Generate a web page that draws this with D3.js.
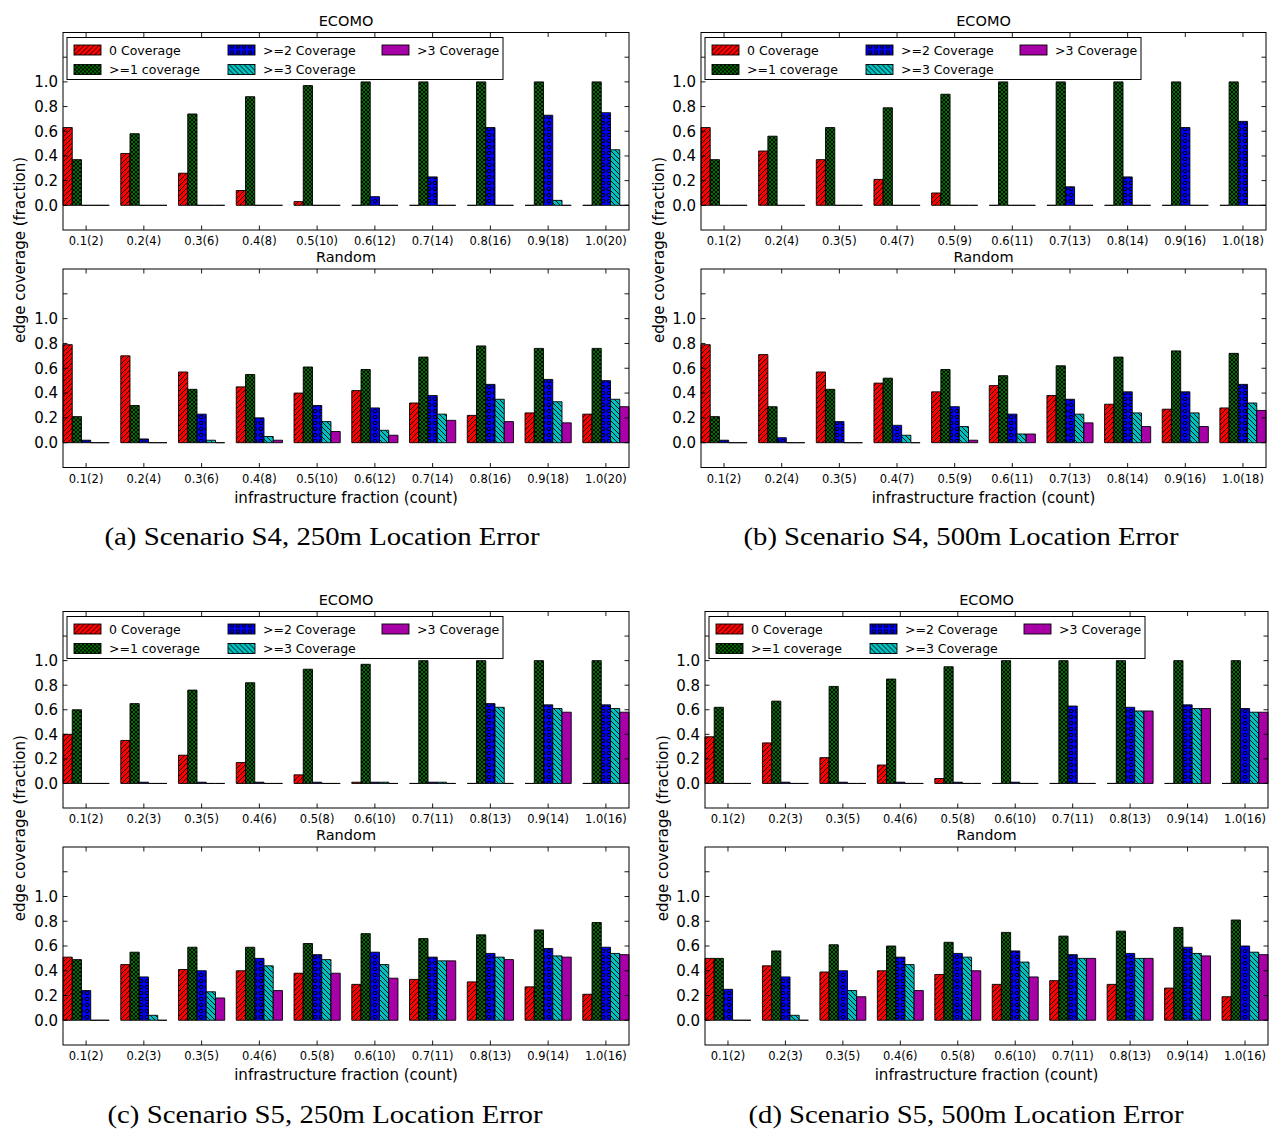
<!DOCTYPE html>
<html><head><meta charset="utf-8">
<script src="https://cdn.jsdelivr.net/npm/d3@7"></script>
<style>body{margin:0;background:#fff}</style>
</head><body>
<svg id="chart" width="1276" height="1129"></svg>
<script>
// ---------- DATA ----------
const seriesNames = ["0 Coverage", ">=1 coverage", ">=2 Coverage", ">=3 Coverage", ">3 Coverage"];
const yTicks = [0.0, 0.2, 0.4, 0.6, 0.8, 1.0];
const catsA = ["0.1(2)","0.2(4)","0.3(6)","0.4(8)","0.5(10)","0.6(12)","0.7(14)","0.8(16)","0.9(18)","1.0(20)"];
const catsB = ["0.1(2)","0.2(4)","0.3(5)","0.4(7)","0.5(9)","0.6(11)","0.7(13)","0.8(14)","0.9(16)","1.0(18)"];
const catsCD = ["0.1(2)","0.2(3)","0.3(5)","0.4(6)","0.5(8)","0.6(10)","0.7(11)","0.8(13)","0.9(14)","1.0(16)"];

// (a) S4, 250m
const ecomoA_zero = [0.63,0.42,0.26,0.12,0.03,0,0,0,0,0];
const ecomoA_ge1  = [0.37,0.58,0.74,0.88,0.97,1,1,1,1,1];
const ecomoA_ge2  = [0,0,0,0,0,0.07,0.23,0.63,0.73,0.75];
const ecomoA_ge3  = [0,0,0,0,0,0,0,0,0.04,0.45];
const ecomoA_gt3  = [0,0,0,0,0,0,0,0,0,0];
const randA_zero = [0.79,0.70,0.57,0.45,0.40,0.42,0.32,0.22,0.24,0.23];
const randA_ge1  = [0.21,0.30,0.43,0.55,0.61,0.59,0.69,0.78,0.76,0.76];
const randA_ge2  = [0.02,0.03,0.23,0.20,0.30,0.28,0.38,0.47,0.51,0.50];
const randA_ge3  = [0,0,0.02,0.05,0.17,0.10,0.23,0.35,0.33,0.35];
const randA_gt3  = [0,0,0,0.02,0.09,0.06,0.18,0.17,0.16,0.29];

// (b) S4, 500m
const ecomoB_zero = [0.63,0.44,0.37,0.21,0.10,0,0,0,0,0];
const ecomoB_ge1  = [0.37,0.56,0.63,0.79,0.90,1,1,1,1,1];
const ecomoB_ge2  = [0,0,0,0,0,0,0.15,0.23,0.63,0.68];
const ecomoB_ge3  = [0,0,0,0,0,0,0,0,0,0];
const ecomoB_gt3  = [0,0,0,0,0,0,0,0,0,0];
const randB_zero = [0.79,0.71,0.57,0.48,0.41,0.46,0.38,0.31,0.27,0.28];
const randB_ge1  = [0.21,0.29,0.43,0.52,0.59,0.54,0.62,0.69,0.74,0.72];
const randB_ge2  = [0.02,0.04,0.17,0.14,0.29,0.23,0.35,0.41,0.41,0.47];
const randB_ge3  = [0,0,0,0.06,0.13,0.07,0.23,0.24,0.24,0.32];
const randB_gt3  = [0,0,0,0,0.02,0.07,0.16,0.13,0.13,0.26];

// (c) S5, 250m
const ecomoC_zero = [0.40,0.35,0.23,0.17,0.07,0.01,0,0,0,0];
const ecomoC_ge1  = [0.60,0.65,0.76,0.82,0.93,0.97,1,1,1,1];
const ecomoC_ge2  = [0,0.01,0.01,0.01,0.01,0.01,0.01,0.65,0.64,0.64];
const ecomoC_ge3  = [0,0,0,0,0,0.01,0.01,0.62,0.61,0.61];
const ecomoC_gt3  = [0,0,0,0,0,0,0,0,0.58,0.58];
const randC_zero = [0.51,0.45,0.41,0.40,0.38,0.29,0.33,0.31,0.27,0.21];
const randC_ge1  = [0.49,0.55,0.59,0.59,0.62,0.70,0.66,0.69,0.73,0.79];
const randC_ge2  = [0.24,0.35,0.40,0.50,0.53,0.55,0.51,0.54,0.58,0.59];
const randC_ge3  = [0,0.04,0.23,0.44,0.49,0.45,0.48,0.51,0.52,0.54];
const randC_gt3  = [0,0,0.18,0.24,0.38,0.34,0.48,0.49,0.51,0.53];

// (d) S5, 500m
const ecomoD_zero = [0.38,0.33,0.21,0.15,0.04,0,0,0,0,0];
const ecomoD_ge1  = [0.62,0.67,0.79,0.85,0.95,1,1,1,1,1];
const ecomoD_ge2  = [0,0.01,0.01,0.01,0.01,0.01,0.63,0.62,0.64,0.61];
const ecomoD_ge3  = [0,0,0,0,0,0,0,0.59,0.61,0.58];
const ecomoD_gt3  = [0,0,0,0,0,0,0,0.59,0.61,0.58];
const randD_zero = [0.50,0.44,0.39,0.40,0.37,0.29,0.32,0.29,0.26,0.19];
const randD_ge1  = [0.50,0.56,0.61,0.60,0.63,0.71,0.68,0.72,0.75,0.81];
const randD_ge2  = [0.25,0.35,0.40,0.51,0.54,0.56,0.53,0.54,0.59,0.60];
const randD_ge3  = [0,0.04,0.24,0.45,0.51,0.47,0.50,0.50,0.54,0.55];
const randD_gt3  = [0,0,0.19,0.24,0.40,0.35,0.50,0.50,0.52,0.53];

const captions = ["(a) Scenario S4, 250m Location Error","(b) Scenario S4, 500m Location Error",
                  "(c) Scenario S5, 250m Location Error","(d) Scenario S5, 500m Location Error"];

// ---------- LAYOUT ----------
const panels = [
  {cats:catsA, ecomo:[ecomoA_zero,ecomoA_ge1,ecomoA_ge2,ecomoA_ge3,ecomoA_gt3],
   rand:[randA_zero,randA_ge1,randA_ge2,randA_ge3,randA_gt3],
   left:63, right:629, t1:32.5, b1:230, t2:269, b2:467.5, ylx:25, capx:322, capy:545},
  {cats:catsB, ecomo:[ecomoB_zero,ecomoB_ge1,ecomoB_ge2,ecomoB_ge3,ecomoB_gt3],
   rand:[randB_zero,randB_ge1,randB_ge2,randB_ge3,randB_gt3],
   left:701, right:1266, t1:32.5, b1:230, t2:269, b2:467.5, ylx:664, capx:961, capy:545},
  {cats:catsCD, ecomo:[ecomoC_zero,ecomoC_ge1,ecomoC_ge2,ecomoC_ge3,ecomoC_gt3],
   rand:[randC_zero,randC_ge1,randC_ge2,randC_ge3,randC_gt3],
   left:63, right:629, t1:611.5, b1:808, t2:847, b2:1045, ylx:25, capx:325, capy:1123},
  {cats:catsCD, ecomo:[ecomoD_zero,ecomoD_ge1,ecomoD_ge2,ecomoD_ge3,ecomoD_gt3],
   rand:[randD_zero,randD_ge1,randD_ge2,randD_ge3,randD_gt3],
   left:705, right:1268, t1:611.5, b1:808, t2:847, b2:1045, ylx:668, capx:966, capy:1123}
];

const svg = d3.select("#chart");
svg.append("rect").attr("width",1276).attr("height",1129).attr("fill","#fff");
const FONT = "DejaVu Sans, sans-serif";

// ---------- PATTERNS ----------
const defs = svg.append("defs");
function pat(id, w, h, bg, draw){
  const p = defs.append("pattern").attr("id",id).attr("patternUnits","userSpaceOnUse")
    .attr("width",w).attr("height",h);
  p.append("rect").attr("width",w).attr("height",h).attr("fill",bg);
  draw(p);
}
pat("p0",5,5,"#ff0000",p=>p.append("path").attr("d","M-1,1L1,-1M0,5L5,0M4,6L6,4").attr("stroke","#000").attr("stroke-width",0.9));
pat("p1",4,4,"#007000",p=>p.append("path").attr("d","M0,0L4,4M4,0L0,4").attr("stroke","#000").attr("stroke-width",0.95));
pat("p2",6,6,"#0000ff",p=>p.append("circle").attr("cx",3).attr("cy",3).attr("r",1.7).attr("fill","none").attr("stroke","#000").attr("stroke-width",1.1));
pat("p3",5,5,"#00bfbf",p=>p.append("path").attr("d","M-1,4L1,6M0,0L5,5M4,-1L6,1").attr("stroke","#000").attr("stroke-width",0.9));
pat("p4",5,5,"#a600a6",p=>{});
const fills = ["url(#p0)","url(#p1)","url(#p2)","url(#p3)","url(#p4)"];

const barW = 0.16;

function drawAxes(P, series, top, bottom, title, showLegend, showXLabel){
  const x = d3.scaleLinear().domain([0, 9.8]).range([P.left, P.right]);
  const y = d3.scaleLinear().domain([-0.2, 1.4]).range([bottom, top]);
  const g = svg.append("g");
  series.forEach((vals, s) => {
    g.selectAll(null).data(vals).enter().append("path")
      .attr("d", (v,i) => {
        const x0 = x(i + s*barW), x1 = x(i + (s+1)*barW);
        const y0 = y(0), y1 = y(v);
        return `M${x0},${y0}L${x0},${y1}L${x1},${y1}L${x1},${y0}Z`;
      })
      .attr("fill", fills[s]).attr("stroke","#000").attr("stroke-width",0.9);
  });
  const tl = 4.5;
  const tg = svg.append("g").attr("stroke","#000").attr("stroke-width",0.9);
  const yTickVals = [0,0.2,0.4,0.6,0.8,1.0,1.2];
  yTickVals.forEach(v => {
    tg.append("line").attr("x1",P.left).attr("x2",P.left+tl).attr("y1",y(v)).attr("y2",y(v));
    tg.append("line").attr("x1",P.right).attr("x2",P.right-tl).attr("y1",y(v)).attr("y2",y(v));
  });
  P.cats.forEach((c,i) => {
    const xc = x(i + 2.5*barW);
    tg.append("line").attr("x1",xc).attr("x2",xc).attr("y1",bottom).attr("y2",bottom-tl);
    tg.append("line").attr("x1",xc).attr("x2",xc).attr("y1",top).attr("y2",top+tl);
  });
  svg.append("g").selectAll(null).data(yTicks).enter().append("text")
    .attr("x", P.left - 5).attr("y", d => y(d)).attr("dy","0.36em")
    .attr("text-anchor","end").attr("font-family",FONT).attr("font-size",15)
    .text(d => d3.format(".1f")(d));
  svg.append("g").selectAll(null).data(P.cats).enter().append("text")
    .attr("x", (d,i) => x(i + 2.5*barW)).attr("y", bottom + 15)
    .attr("text-anchor","middle").attr("font-family",FONT).attr("font-size",11.5)
    .text(d => d);
  svg.append("rect").attr("x",P.left).attr("y",top).attr("width",P.right-P.left).attr("height",bottom-top)
    .attr("fill","none").attr("stroke","#000").attr("stroke-width",1);
  svg.append("text").attr("x",(P.left+P.right)/2).attr("y",top-7).attr("text-anchor","middle")
    .attr("font-family",FONT).attr("font-size",14.5).text(title);
  if (showLegend){
    const lg = svg.append("g").attr("transform",`translate(${P.left+4},${top+5})`);
    lg.append("rect").attr("width",436).attr("height",42).attr("fill","#fff").attr("stroke","#000").attr("stroke-width",1);
    const pos = [[0,0],[0,1],[1,0],[1,1],[2,0]];
    const colX = [7, 161, 315];
    seriesNames.forEach((nm, s) => {
      const [c, r] = pos[s];
      const cy = 12.5 + r*19.5;
      lg.append("rect").attr("x",colX[c]).attr("y",cy-5).attr("width",27).attr("height",10)
        .attr("fill",fills[s]).attr("stroke","#000").attr("stroke-width",0.9);
      lg.append("text").attr("x",colX[c]+35).attr("y",cy).attr("dy","0.36em")
        .attr("font-family",FONT).attr("font-size",12.5).text(nm);
    });
  }
  if (showXLabel){
    svg.append("text").attr("x",(P.left+P.right)/2).attr("y",bottom+35).attr("text-anchor","middle")
      .attr("font-family",FONT).attr("font-size",15).text("infrastructure fraction (count)");
  }
}

panels.forEach((P, k) => {
  drawAxes(P, P.ecomo, P.t1, P.b1, "ECOMO", true, false);
  drawAxes(P, P.rand, P.t2, P.b2, "Random", false, true);
  svg.append("text").attr("transform",`translate(${P.ylx},${(P.t1+P.b2)/2}) rotate(-90)`)
    .attr("text-anchor","middle").attr("font-family",FONT).attr("font-size",15)
    .text("edge coverage (fraction)");
  svg.append("text").attr("x",P.capx).attr("y",P.capy).attr("text-anchor","middle")
    .attr("font-family","Liberation Serif, serif").attr("font-size",25)
    .attr("textLength",435).attr("lengthAdjust","spacingAndGlyphs")
    .text(captions[k]);
});
</script>
</body></html>
